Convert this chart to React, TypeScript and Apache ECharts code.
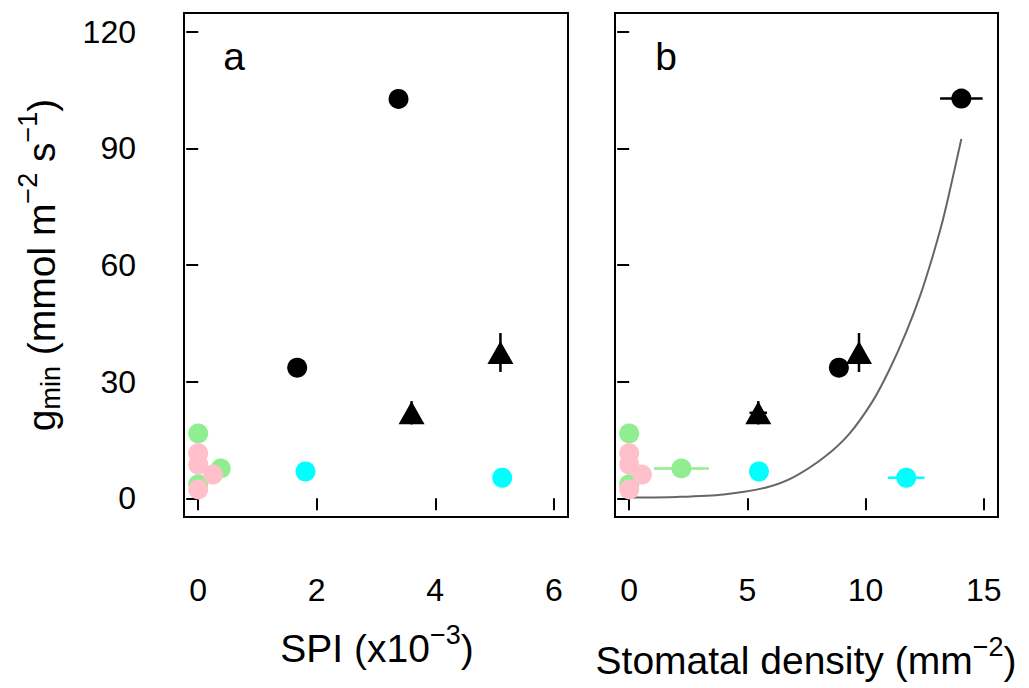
import React, { useEffect, useRef } from 'react';
import * as echarts from 'echarts';

const FONT = '"Liberation Sans", Arial, Helvetica, sans-serif';

// ---- tick values ----
const yTicks = [0, 30, 60, 90, 120];
const spiTicks = [0, 2, 4, 6];
const densityTicks = [0, 5, 10, 15];

// ---- panel a: SPI (x10^-3) vs gmin ----
const spiGreen = [[0.0, 16.7], [0.38, 7.7], [0.0, 3.6]];
const spiPink = [[0.0, 11.6], [0.0, 8.7], [0.25, 6.1], [0.0, 2.3]];
const spiCyan = [[1.81, 6.9], [5.13, 5.3]];
const spiBlackCircle = [[1.67, 33.6], [3.38, 102.7]];
const spiBlackTriangle = [[3.6, 22.0], [5.1, 37.5]];
// [x, y, xErr, yErr]
const spiBlackErr = [[3.6, 22.0, 0, 3], [5.1, 37.5, 0, 5]];

// ---- panel b: stomatal density vs gmin ----
const sdGreen = [[0.0, 16.7], [2.21, 7.7], [0.0, 3.6]];
const sdPink = [[0.0, 11.6], [0.0, 8.7], [0.54, 6.1], [0.0, 2.3]];
const sdCyan = [[5.49, 6.9], [11.72, 5.3]];
const sdBlackCircle = [[8.87, 33.6], [14.05, 102.8]];
const sdBlackTriangle = [[5.46, 22.0], [9.72, 37.5]];
const sdBlackErr = [[5.46, 22.0, 0.37, 3], [9.72, 37.5, 0, 5], [14.05, 102.8, 0.9, 0]];
const sdGreenErr = [[2.21, 7.7, 1.16, 0]];
const sdCyanErr = [[11.72, 5.3, 0.77, 0]];

// fitted curve
const sdCurve = [
  [0.15, 0.2], [2.0, 0.35], [4.0, 1.0], [5.8, 2.8], [7.0, 5.6], [8.3, 10.8],
  [9.3, 16.5], [10.3, 25.0], [11.0, 33.0], [11.7, 42.5], [12.3, 52.0],
  [12.8, 61.5], [13.2, 70.0], [13.5, 77.5], [14.05, 92.4],
];

const GREEN = '#90EE90';
const PINK = '#FFC0CB';
const CYAN = '#00FFFF';
const BLACK = '#000000';

const errBars = (gridIdx: number, data: number[][], color: string) => ({
  type: 'custom',
  xAxisIndex: gridIdx,
  yAxisIndex: gridIdx,
  data,
  z: 2,
  renderItem: (params: any, api: any) => {
    const x = api.value(0);
    const y = api.value(1);
    const xe = api.value(2);
    const ye = api.value(3);
    const children: any[] = [];
    const style = { stroke: color, lineWidth: 2.5 };
    if (xe > 0) {
      const p1 = api.coord([x - xe, y]);
      const p2 = api.coord([x + xe, y]);
      children.push({ type: 'line', shape: { x1: p1[0], y1: p1[1], x2: p2[0], y2: p2[1] }, style });
    }
    if (ye > 0) {
      const p1 = api.coord([x, y - ye]);
      const p2 = api.coord([x, y + ye]);
      children.push({ type: 'line', shape: { x1: p1[0], y1: p1[1], x2: p2[0], y2: p2[1] }, style });
    }
    return { type: 'group', children };
  },
});

const pts = (gridIdx: number, data: number[][], color: string, symbol = 'circle', size: any = 20) => ({
  type: 'scatter',
  xAxisIndex: gridIdx,
  yAxisIndex: gridIdx,
  data,
  symbol,
  symbolSize: size,
  itemStyle: { color, opacity: 1 },
  z: 3,
});

const xAxisCfg = (gridIndex: number, min: number, max: number, ticks: number[]) => ({
  gridIndex,
  type: 'value',
  min,
  max,
  splitLine: { show: false },
  axisLine: { show: false },
  axisTick: { show: true, length: 12, lineStyle: { color: BLACK, width: 2 }, customValues: ticks },
  axisLabel: { customValues: ticks, fontSize: 32, color: BLACK, fontFamily: FONT, margin: 57 },
});

const yAxisCfg = (gridIndex: number, showLabels: boolean) => ({
  gridIndex,
  type: 'value',
  min: -4.8,
  max: 124.8,
  splitLine: { show: false },
  axisLine: { show: false },
  axisTick: { show: true, length: 12, lineStyle: { color: BLACK, width: 2 }, customValues: yTicks },
  axisLabel: { show: showLabels, customValues: yTicks, fontSize: 32, color: BLACK, fontFamily: FONT, margin: 48 },
});

const richStyles = {
  m: { fontSize: 39, fontFamily: FONT, fill: BLACK, lineHeight: 60 },
  sub: { fontSize: 27, fontFamily: FONT, fill: BLACK, lineHeight: 27, padding: [19, 0, 0, 0] },
  sup: { fontSize: 27, fontFamily: FONT, fill: BLACK, lineHeight: 27, padding: [0, 0, 27, 0] },
};

const option: any = {
  animation: false,
  backgroundColor: '#ffffff',
  grid: [
    { left: 184, top: 13, width: 384, height: 504, show: true, borderColor: BLACK, borderWidth: 2, backgroundColor: 'transparent' },
    { left: 615, top: 13, width: 383, height: 504, show: true, borderColor: BLACK, borderWidth: 2, backgroundColor: 'transparent' },
  ],
  xAxis: [xAxisCfg(0, -0.24, 6.24, spiTicks), xAxisCfg(1, -0.6, 15.6, densityTicks)],
  yAxis: [yAxisCfg(0, true), yAxisCfg(1, false)],
  series: [
    {
      type: 'line',
      xAxisIndex: 1,
      yAxisIndex: 1,
      data: sdCurve,
      showSymbol: false,
      smooth: 0.3,
      lineStyle: { color: '#666666', width: 2 },
      z: 1,
    },
    errBars(0, spiBlackErr, BLACK),
    pts(0, spiGreen, GREEN),
    pts(0, spiPink, PINK),
    pts(0, spiCyan, CYAN),
    pts(0, spiBlackCircle, BLACK),
    pts(0, spiBlackTriangle, BLACK, 'triangle', [26, 23]),
    errBars(1, sdGreenErr, GREEN),
    errBars(1, sdCyanErr, CYAN),
    errBars(1, sdBlackErr, BLACK),
    pts(1, sdGreen, GREEN),
    pts(1, sdPink, PINK),
    pts(1, sdCyan, CYAN),
    pts(1, sdBlackCircle, BLACK),
    pts(1, sdBlackTriangle, BLACK, 'triangle', [26, 23]),
  ],
  graphic: [
    { type: 'text', x: 234, y: 56, style: { text: 'a', fontSize: 39, fontFamily: FONT, fill: BLACK, align: 'center', verticalAlign: 'middle' } },
    { type: 'text', x: 666, y: 56, style: { text: 'b', fontSize: 39, fontFamily: FONT, fill: BLACK, align: 'center', verticalAlign: 'middle' } },
    {
      type: 'text', x: 377, y: 648,
      style: { text: '{m|SPI (x10}{sup|−3}{m|)}', rich: richStyles, align: 'center', verticalAlign: 'middle' },
    },
    {
      type: 'text', x: 806, y: 660,
      style: { text: '{m|Stomatal density (mm}{sup|−2}{m|)}', rich: richStyles, align: 'center', verticalAlign: 'middle' },
    },
    {
      type: 'text', x: 41, y: 265, rotation: Math.PI / 2,
      style: { text: '{m|g}{sub|min}{m| (mmol m}{sup|−2}{m| s}{sup|−1}{m|)}', rich: richStyles, align: 'center', verticalAlign: 'middle' },
    },
  ],
};

export default function App() {
  const ref = useRef<HTMLDivElement>(null);
  useEffect(() => {
    const chart = echarts.init(ref.current!, null, { renderer: 'svg' });
    chart.setOption(option);
    return () => chart.dispose();
  }, []);
  return <div ref={ref} style={{ position: 'absolute', left: 0, top: 0, width: 1029, height: 688 }} />;
}
